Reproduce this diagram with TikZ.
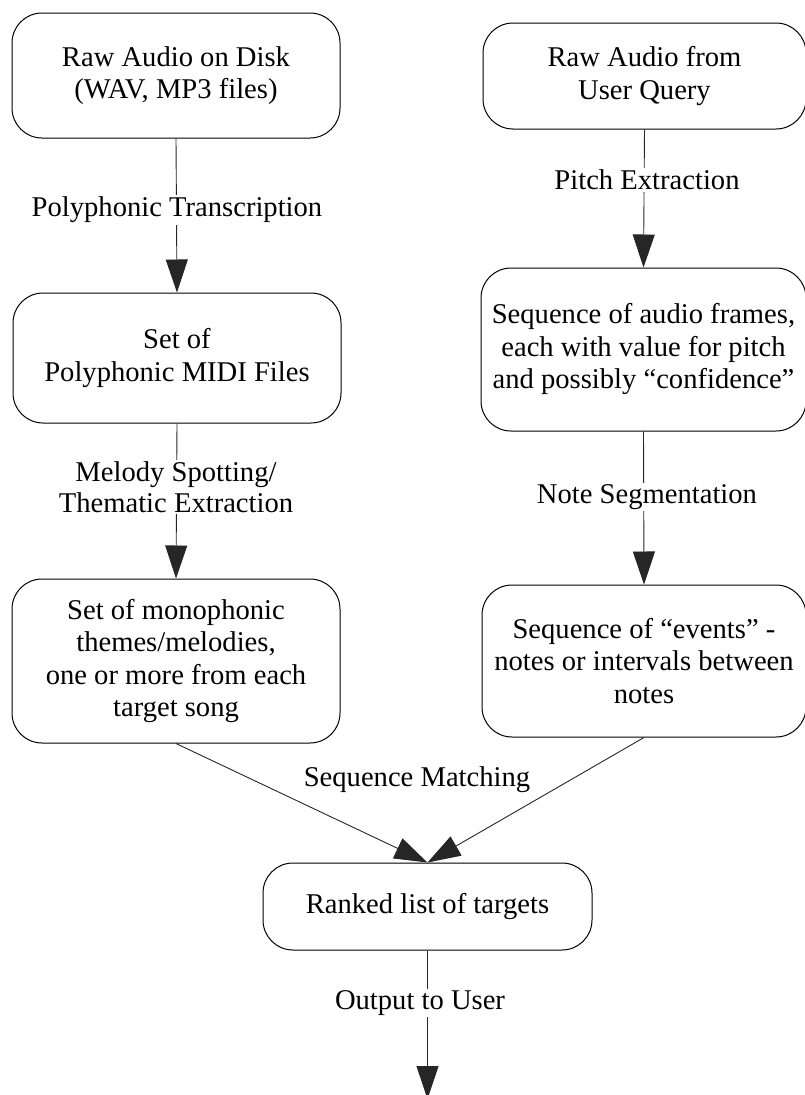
\documentclass[tikz,border=0pt]{standalone}
\usepackage{fontspec}
\setmainfont{Liberation Serif}
\usetikzlibrary{arrows.meta}

\tikzset{
  stage/.style={draw=black, line width=1pt, rounded corners=30pt, fill=white,
    align=center, inner sep=0pt, font=\fontsize{28.6}{32.5}\selectfont},
  lbl/.style={fill=white, inner sep=1.5pt, align=center,
    font=\fontsize{28.6}{31}\selectfont},
  flow/.style={draw=black!85, line width=0.9pt, -{Triangle[length=33pt,width=22pt]}}
}

\begin{document}
\begin{tikzpicture}[x=1pt, y=-1pt]
  \useasboundingbox (0,0) rectangle (804,1095);

  % processing stages
  \node[stage, minimum width=328pt, minimum height=125pt] (disk) at (176,75.5)
    {Raw Audio on Disk\\(WAV, MP3 files)};
  \node[stage, minimum width=323pt, minimum height=106pt] (query) at (644.5,76)
    {Raw Audio from\\User Query};
  \node[stage, minimum width=328pt, minimum height=130pt] (midi) at (177,358)
    {Set of\\Polyphonic MIDI Files};
  \node[stage, minimum width=325pt, minimum height=163pt] (frames) at (643.5,349.5)
    {Sequence of audio frames,\\each with value for pitch\\and possibly “confidence”};
  \node[stage, minimum width=328pt, minimum height=164pt] (themes) at (176,661)
    {Set of monophonic\\themes/melodies,\\one or more from each\\target song};
  \node[stage, minimum width=324pt, minimum height=152pt] (events) at (644,661)
    {Sequence of “events” -\\notes or intervals between\\notes};
  \node[stage, minimum width=329pt, minimum height=87pt] (ranked) at (427.5,906.5)
    {Ranked list of targets};
  \coordinate (user) at (427.5,1099);

  % connectors
  \draw[flow] (disk.south) -- (midi.north);
  \draw[flow] (query.south) -- (frames.north);
  \draw[flow] (midi.south) -- (themes.north);
  \draw[flow] (frames.south) -- (events.north);
  \draw[flow] (themes.south) -- (ranked.north);
  \draw[flow] (events.south) -- (ranked.north);
  \draw[flow] (ranked.south) -- (user);

  % connector labels
  \node[lbl] (lpoly) at (177,210) {Polyphonic Transcription};
  \node[lbl] (lpitch) at (647,180) {Pitch Extraction};
  \node[lbl] (lmelody) at (176,487) {Melody Spotting/\\Thematic Extraction};
  \node[lbl] (lnote) at (647,497) {Note Segmentation};
  \node[lbl] (lmatch) at (417,780) {Sequence Matching};
  \node[lbl] (lout) at (420,1003) {Output to User};
\end{tikzpicture}
\end{document}
